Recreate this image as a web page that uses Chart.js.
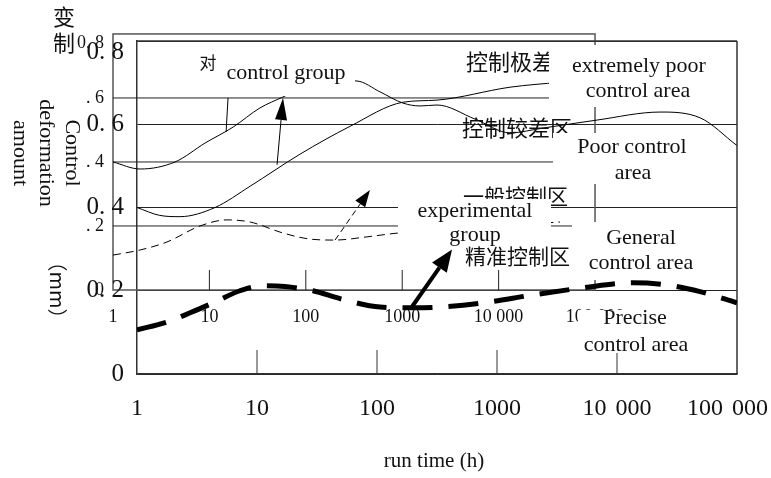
<!DOCTYPE html>
<html>
<head>
<meta charset="utf-8">
<script src="https://cdn.jsdelivr.net/npm/chart.js@4.4.1/dist/chart.umd.min.js"></script>
<style>
  html, body { margin: 0; padding: 0; background: #fff; }
  #wrap { width: 771px; height: 478px; }
</style>
</head>
<body>
<div id="wrap"><canvas id="chart" width="771" height="478"></canvas></div>
<script>
// main axes: run time (h, log) / control deformation (mm)
const xTicks = [1, 10, 100, 1000, 10000, 100000];
const xTickLabels = ['1', '10', '100', '1000', '10 000', '100 000'];
const yTicks = [0, 0.2, 0.4, 0.6, 0.8];
const yTickLabels = ['0', '0. 2', '0. 4', '0. 6', '0. 8'];

// the untranslated inset figure that sits behind, with its own axes
const insetXTicks = [1, 10, 100, 1000, 10000, 100000];
const insetXTickLabels = ['1', '10', '100', '1000', '10 000', '100 000'];
const insetYTicks = [0, 0.2, 0.4, 0.6, 0.8];
const insetYTickLabels = ['0', '. 2', '. 4', '. 6', '0. 8'];

// control group (inset axes)
const ctrlInsetX = [1, 1.91, 4.4, 9.0, 17.6, 33.5, 58, 140, 340, 589, 1019, 1530, 2300, 5690, 13100, 28900, 105000, 472000, 1230000, 2950000];
const ctrlInsetY = [0.400, 0.378, 0.400, 0.459, 0.509, 0.569, 0.603, 0.656, 0.653, 0.619, 0.584, 0.575, 0.578, 0.534, 0.491, 0.506, 0.531, 0.556, 0.538, 0.452];

// control group (main axes)
const ctrlX = [1, 1.55, 2.28, 4.47, 8.75, 22.8, 59.6, 165, 316, 1283, 3350];
const ctrlY = [0.400, 0.381, 0.378, 0.400, 0.451, 0.528, 0.595, 0.653, 0.658, 0.689, 0.701];

// experimental group (inset axes)
const expInsetX = [1, 1.91, 3.63, 7.99, 15.2, 26.4, 58, 111, 201, 432, 904, 5050, 43300];
const expInsetY = [0.109, 0.125, 0.150, 0.200, 0.219, 0.2125, 0.178, 0.159, 0.156, 0.166, 0.178, 0.194, 0.2125];

// experimental group (main axes)
const expX = [1, 1.78, 2.77, 4.47, 7.21, 11.0, 17.1, 29.3, 49.2, 106, 200, 335, 764, 1995, 5210, 13600, 26100, 49200, 100000];
const expY = [0.106, 0.125, 0.147, 0.173, 0.200, 0.212, 0.210, 0.200, 0.181, 0.161, 0.159, 0.161, 0.171, 0.190, 0.207, 0.219, 0.214, 0.198, 0.171];

// arrows, in the data units of the axes they belong to
const arrows = [
  { axes: 'inset', from: [15.6, 0.6], to: [14.9, 0.494], width: 1, head: null },
  { axes: 'inset', from: [50.3, 0.391], to: [58, 0.6], width: 1, head: [22, 6] },
  { axes: 'inset', from: [201, 0.156], to: [463, 0.3125], width: 1, dash: [6, 4], head: [17, 6] },
  { axes: 'main', from: [195, 0.161], to: [422, 0.299], width: 4, head: [22, 9] }
];

const serif = '"Liberation Serif", "Times New Roman", serif';
const cjk = '"Noto Sans CJK SC", sans-serif';

// loose text of the original figure
const notes = [
  { text: '变', x: 64, y: 17, size: 22, cjk: true },
  { text: '制', x: 64, y: 43, size: 22, cjk: true },
  { text: '对', x: 208, y: 63, size: 17, cjk: true },
  { text: '控制极差区', x: 466, y: 62, size: 22, cjk: true, align: 'left' },
  { text: '控制较差区', x: 462, y: 128, size: 22, cjk: true, align: 'left' },
  { text: '一般控制区', x: 463, y: 196, size: 21, cjk: true, align: 'left' },
  { text: '精准控制区', x: 465, y: 256, size: 21, cjk: true, align: 'left' }
];

// white label boxes laid over the figure
const boxes = [
  { x: 222, y: 56, w: 133, h: 40, lines: [['control group', 286, 73]] },
  { x: 549, y: 45, w: 187, h: 62, lines: [['extremely poor', 639, 66], ['control area', 638, 91]] },
  { x: 553, y: 133, w: 153, h: 51, lines: [['Poor control', 632, 147], ['area', 633, 173]] },
  { x: 398, y: 199, w: 153, h: 47, lines: [['experimental', 475, 211], ['group', 475, 235]] },
  { x: 572, y: 222, w: 163, h: 58, lines: [['General', 641, 238], ['control area', 641, 263]] },
  { x: 578, y: 310, w: 150, h: 43, lines: [['Precise', 635, 318], ['control area', 636, 345]] }
];

const pts = (xs, ys) => xs.map((x, i) => ({ x: x, y: ys[i] }));

function seg(ctx, x1, y1, x2, y2) {
  ctx.beginPath(); ctx.moveTo(x1, y1); ctx.lineTo(x2, y2); ctx.stroke();
}

function label(ctx, s, x, y, font, align) {
  ctx.font = font;
  ctx.textAlign = align || 'center';
  ctx.textBaseline = 'middle';
  ctx.fillStyle = '#111';
  ctx.fillText(s, x, y);
}

const figure = {
  id: 'figure',
  beforeDatasetsDraw(chart) {
    const ctx = chart.ctx, a = chart.chartArea, s = chart.scales;
    ctx.save();
    // inset frame, grid and inward ticks
    const l = s.x2.getPixelForValue(1), r = s.x2.getPixelForValue(100000);
    const b = s.y2.getPixelForValue(0), t = s.y2.getPixelForValue(0.8);
    ctx.strokeStyle = '#555'; ctx.lineWidth = 1.5;
    ctx.strokeRect(l, t, r - l, b - t);
    ctx.strokeStyle = '#222'; ctx.lineWidth = 1;
    insetYTicks.slice(1, -1).forEach(v => { const y = s.y2.getPixelForValue(v); seg(ctx, l, y, r, y); });
    insetXTicks.slice(1, -1).forEach(v => { const x = s.x2.getPixelForValue(v); seg(ctx, x, b, x, b - 20); });
    // main frame top/right and inward ticks
    ctx.strokeStyle = '#333'; ctx.lineWidth = 1.5;
    seg(ctx, a.left, a.top, a.right, a.top);
    seg(ctx, a.right, a.top, a.right, a.bottom);
    ctx.lineWidth = 1;
    xTicks.slice(1, -1).forEach(v => { const x = s.x.getPixelForValue(v); seg(ctx, x, a.bottom, x, a.bottom - 24); });
    ctx.restore();
  },
  afterDatasetsDraw(chart) {
    const ctx = chart.ctx, a = chart.chartArea, s = chart.scales, W = chart.width;
    ctx.save();
    // arrows
    arrows.forEach(ar => {
      const sx = ar.axes === 'inset' ? s.x2 : s.x, sy = ar.axes === 'inset' ? s.y2 : s.y;
      const x1 = sx.getPixelForValue(ar.from[0]), y1 = sy.getPixelForValue(ar.from[1]);
      const x2 = sx.getPixelForValue(ar.to[0]), y2 = sy.getPixelForValue(ar.to[1]);
      ctx.strokeStyle = '#000'; ctx.fillStyle = '#000'; ctx.lineWidth = ar.width;
      ctx.setLineDash(ar.dash || []);
      if (!ar.head) { seg(ctx, x1, y1, x2, y2); return; }
      const len = Math.hypot(x2 - x1, y2 - y1), ux = (x2 - x1) / len, uy = (y2 - y1) / len;
      const bx = x2 - ux * ar.head[0], by = y2 - uy * ar.head[0];
      seg(ctx, x1, y1, bx, by);
      ctx.setLineDash([]);
      ctx.beginPath();
      ctx.moveTo(x2, y2);
      ctx.lineTo(bx - uy * ar.head[1], by + ux * ar.head[1]);
      ctx.lineTo(bx + uy * ar.head[1], by - ux * ar.head[1]);
      ctx.closePath(); ctx.fill();
    });
    ctx.setLineDash([]);

    // inset tick labels
    const insetTop = s.y2.getPixelForValue(0.8), insetLeft = s.x2.getPixelForValue(1);
    insetYTicks.forEach((v, i) => {
      const y = Math.max(s.y2.getPixelForValue(v), insetTop + 9);
      label(ctx, insetYTickLabels[i], insetLeft - 9, y, '18px ' + serif, 'right');
    });
    const insetB = s.y2.getPixelForValue(0);
    insetXTicks.forEach((v, i) => label(ctx, insetXTickLabels[i], s.x2.getPixelForValue(v), insetB + 27, '18px ' + serif));

    // loose notes, then the boxes over them
    notes.forEach(n => label(ctx, n.text, n.x, n.y, n.size + 'px ' + (n.cjk ? cjk : serif), n.align));
    boxes.forEach(bx => {
      ctx.fillStyle = '#fff';
      ctx.fillRect(bx.x, bx.y, bx.w, bx.h);
      bx.lines.forEach(ln => label(ctx, ln[0], ln[1], ln[2], '22px ' + serif));
    });

    // main tick labels
    yTicks.forEach((v, i) => {
      const y = Math.max(s.y.getPixelForValue(v), a.top + 11);
      label(ctx, yTickLabels[i], a.left - 13, y, '25px ' + serif, 'right');
    });
    ctx.font = '24px ' + serif;
    try { ctx.wordSpacing = '3px'; } catch (e) {}
    xTicks.forEach((v, i) => {
      const w = ctx.measureText(xTickLabels[i]).width;
      const x = Math.min(Math.max(s.x.getPixelForValue(v), w / 2 + 3), W - w / 2 - 3);
      label(ctx, xTickLabels[i], x, a.bottom + 35, '24px ' + serif);
    });
    try { ctx.wordSpacing = '0px'; } catch (e) {}

    // axis titles
    label(ctx, 'run time (h)', 434, 461, '21px ' + serif);
    const vert = (str, x, y, font) => {
      ctx.save(); ctx.translate(x, y); ctx.rotate(Math.PI / 2);
      label(ctx, str, 0, 0, font); ctx.restore();
    };
    vert('Control', 72, 153, '22px ' + serif);
    vert('deformation', 46, 153, '22px ' + serif);
    vert('amount', 20, 153, '22px ' + serif);
    vert('（mm）', 58, 290, '20px ' + cjk);
    ctx.restore();
  }
};

function draw() {
  new Chart(document.getElementById('chart'), {
    type: 'line',
    data: {
      datasets: [
        { data: pts(ctrlInsetX, ctrlInsetY), xAxisID: 'x2', yAxisID: 'y2', borderColor: '#000', borderWidth: 1, pointRadius: 0, cubicInterpolationMode: 'monotone', clip: false },
        { data: pts(ctrlX, ctrlY), borderColor: '#000', borderWidth: 1, pointRadius: 0, cubicInterpolationMode: 'monotone' },
        { data: pts(expInsetX, expInsetY), xAxisID: 'x2', yAxisID: 'y2', borderColor: '#000', borderWidth: 1, borderDash: [8, 5], pointRadius: 0, cubicInterpolationMode: 'monotone', clip: false },
        { data: pts(expX, expY), borderColor: '#000', borderWidth: 5, borderDash: [30, 16], pointRadius: 0, cubicInterpolationMode: 'monotone' }
      ]
    },
    options: {
      responsive: false,
      animation: false,
      layout: { padding: { top: 41, right: 34, left: 0, bottom: 0 } },
      plugins: { legend: { display: false }, tooltip: { enabled: false } },
      scales: {
        x: {
          type: 'logarithmic', min: 1, max: 100000, position: 'bottom',
          grid: { display: false, drawTicks: false },
          border: { color: '#333', width: 1.5 },
          ticks: { display: false },
          afterFit: sc => { sc.height = 104; }
        },
        y: {
          type: 'linear', min: 0, max: 0.8, position: 'left',
          grid: { color: '#222', lineWidth: 1, drawTicks: false },
          border: { color: '#333', width: 1.5 },
          ticks: { display: false, stepSize: 0.2 },
          afterFit: sc => { sc.width = 137; }
        },
        // inset axes: 1 at px 113, 96.4 px per decade; 0 at px 290, 320 px per unit
        x2: { type: 'logarithmic', display: false, min: 1.774, max: 2.97e6 },
        y2: { type: 'linear', display: false, min: -0.2625, max: 0.778 }
      }
    },
    plugins: [figure]
  });
}

Promise.all([
  document.fonts.load('22px "Liberation Serif"'),
  document.fonts.load('22px "Noto Sans CJK SC"', '控制区变（）')
]).then(draw, draw);
</script>
</body>
</html>
